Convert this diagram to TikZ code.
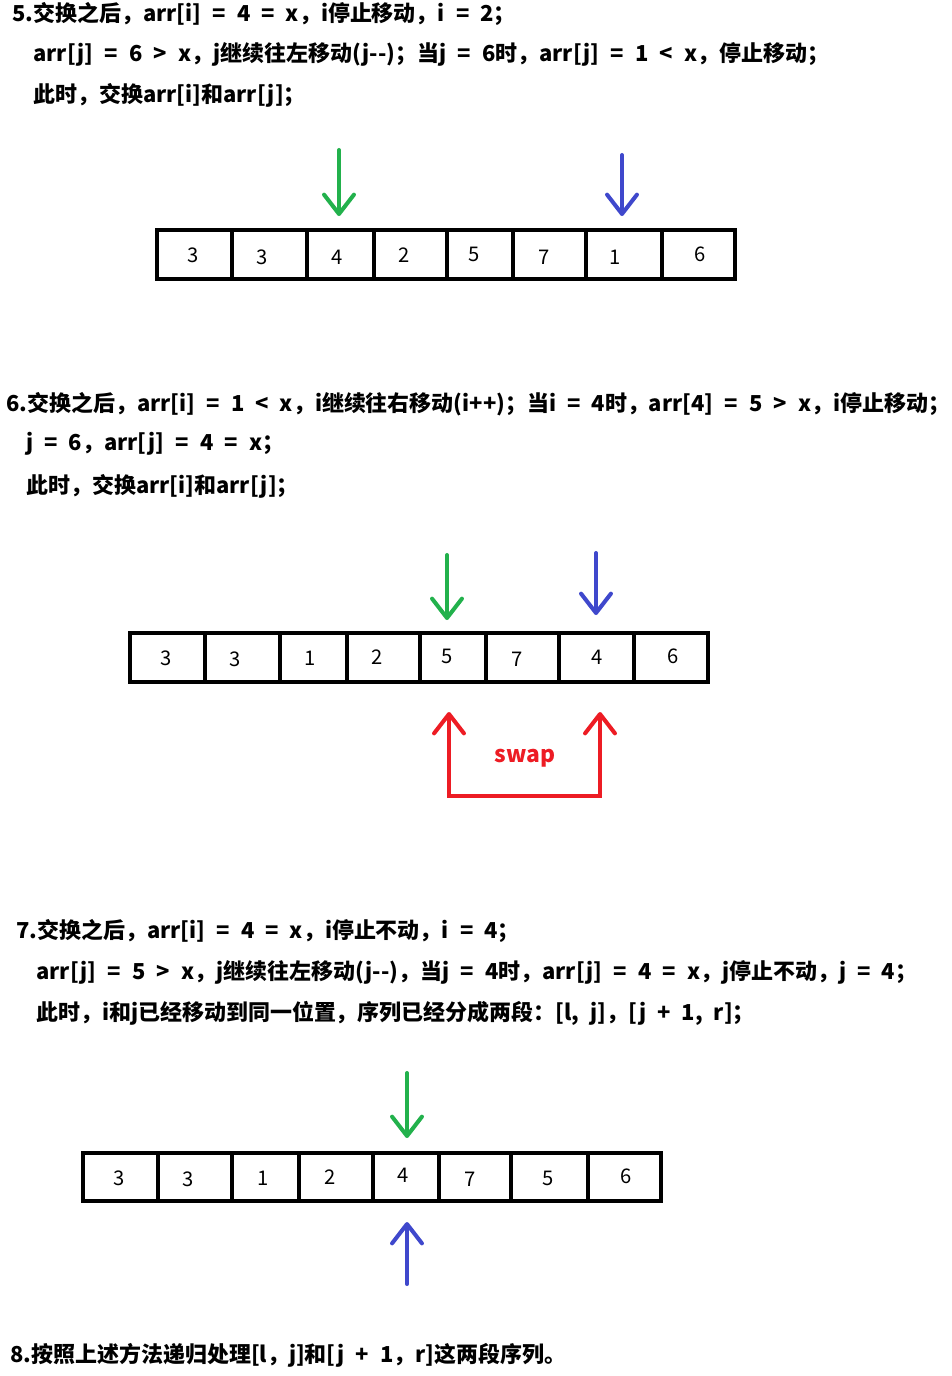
\documentclass[tikz,border=0pt]{standalone}
\usepackage{fontspec}
\newfontfamily\cjk[WordSpace=2.2]{Noto Sans CJK SC}
\usetikzlibrary{arrows.meta}
\definecolor{ptrgreen}{RGB}{34,177,76}
\definecolor{ptrblue}{RGB}{63,72,204}
\definecolor{swapred}{RGB}{237,28,36}
\tikzset{
	line/.style={anchor=west,inner sep=0pt,font=\cjk\bfseries\fontsize{12.5pt}{14pt}\selectfont},
	cell/.style={line width=2.3pt},
	num/.style={inner sep=0pt,font=\cjk\fontsize{11.5pt}{13pt}\selectfont},
	ptr/.style={line width=2.3pt,line cap=round,-{Straight Barb[length=11pt,width=17pt,round]}}
}
\begin{document}
\begin{tikzpicture}[x=0.02cm,y=-0.02cm]
					\useasboundingbox (0,0) rectangle (952,1376);
					\node[line] (t5a) at (12,14) {5.交换之后，arr[i] = 4 = x，i停止移动，i = 2；};
					\node[line] (t5b) at (33,54) {arr[j] = 6 > x，j继续往左移动(j--)；当j = 6时，arr[j] = 1 < x，停止移动；};
					\node[line] (t5c) at (33,95) {此时，交换arr[i]和arr[j]；};
					\draw[cell] (157,230) rectangle (735,279);
					\foreach \x in {232,307,374,447,513,586,662} \draw[cell] (\x,230) -- (\x,279);
					\foreach \v/\x/\y [count=\k] in {3/193/255,3/262/257,4/337/257,2/404/255,5/474/254,7/544/257,1/615/257,6/700/254}
						\node[num] (a\k) at (\x,\y) {\v};
					\coordinate (i5) at (339,150);
					\coordinate (i5e) at (339,216);
					\coordinate (j5) at (622,155);
					\coordinate (j5e) at (622,216);
					\draw[ptr,ptrgreen] (i5) -- (i5e);
					\draw[ptr,ptrblue] (j5) -- (j5e);
					\node[line] (t6a) at (6,404) {6.交换之后，arr[i] = 1 < x，i继续往右移动(i++)；当i = 4时，arr[4] = 5 > x，i停止移动；};
					\node[line] (t6b) at (26,444) {j = 6，arr[j] = 4 = x；};
					\node[line] (t6c) at (26,486) {此时，交换arr[i]和arr[j]；};
					\draw[cell] (130,633) rectangle (708,682);
					\foreach \x in {205,280,347,420,486,559,634} \draw[cell] (\x,633) -- (\x,682);
					\foreach \v/\x/\y [count=\k] in {3/166/658,3/235/659,1/310/658,2/377/657,5/447/656,7/517/659,4/597/657,6/673/656}
						\node[num] (b\k) at (\x,\y) {\v};
					\coordinate (i6) at (447,555);
					\coordinate (i6e) at (447,620);
					\coordinate (j6) at (596,553);
					\coordinate (j6e) at (596,615);
					\draw[ptr,ptrgreen] (i6) -- (i6e);
					\draw[ptr,ptrblue] (j6) -- (j6e);
					\coordinate (sl) at (449,712);
					\coordinate (sr) at (600,712);
					\coordinate (sb) at (525,796);
					\draw[ptr,swapred,{Straight Barb[length=11pt,width=17pt,round]}-{Straight Barb[length=11pt,width=17pt,round]}] (sl) |- (sb) -| (sr);
					\node[inner sep=0pt,text=swapred,font=\cjk\bfseries\fontsize{13pt}{15pt}\selectfont] (swap) at (525,758) {swap};
					\node[line] (t7a) at (16,931) {7.交换之后，arr[i] = 4 = x，i停止不动，i = 4；};
					\node[line] (t7b) at (36,972) {arr[j] = 5 > x，j继续往左移动(j--)，当j = 4时，arr[j] = 4 = x，j停止不动，j = 4；};
					\node[line] (t7c) at (36,1013) {此时，i和j已经移动到同一位置，序列已经分成两段：[l, j]，[j + 1, r]；};
					\draw[cell] (83,1153) rectangle (661,1201);
					\foreach \x in {158,232,299,373,439,511,588} \draw[cell] (\x,1153) -- (\x,1201);
					\foreach \v/\x/\y [count=\k] in {3/119/1178,3/188/1179,1/263/1178,2/330/1177,4/403/1175,7/470/1179,5/548/1178,6/626/1176}
						\node[num] (c\k) at (\x,\y) {\v};
					\coordinate (i7) at (407,1073);
					\coordinate (i7e) at (407,1138);
					\coordinate (j7) at (407,1284);
					\coordinate (j7e) at (407,1222);
					\draw[ptr,ptrgreen] (i7) -- (i7e);
					\draw[ptr,ptrblue] (j7) -- (j7e);
					\node[line] (t8) at (10,1355) {8.按照上述方法递归处理[l，j]和[j + 1，r]这两段序列。};
				\end{tikzpicture}
\end{document}
